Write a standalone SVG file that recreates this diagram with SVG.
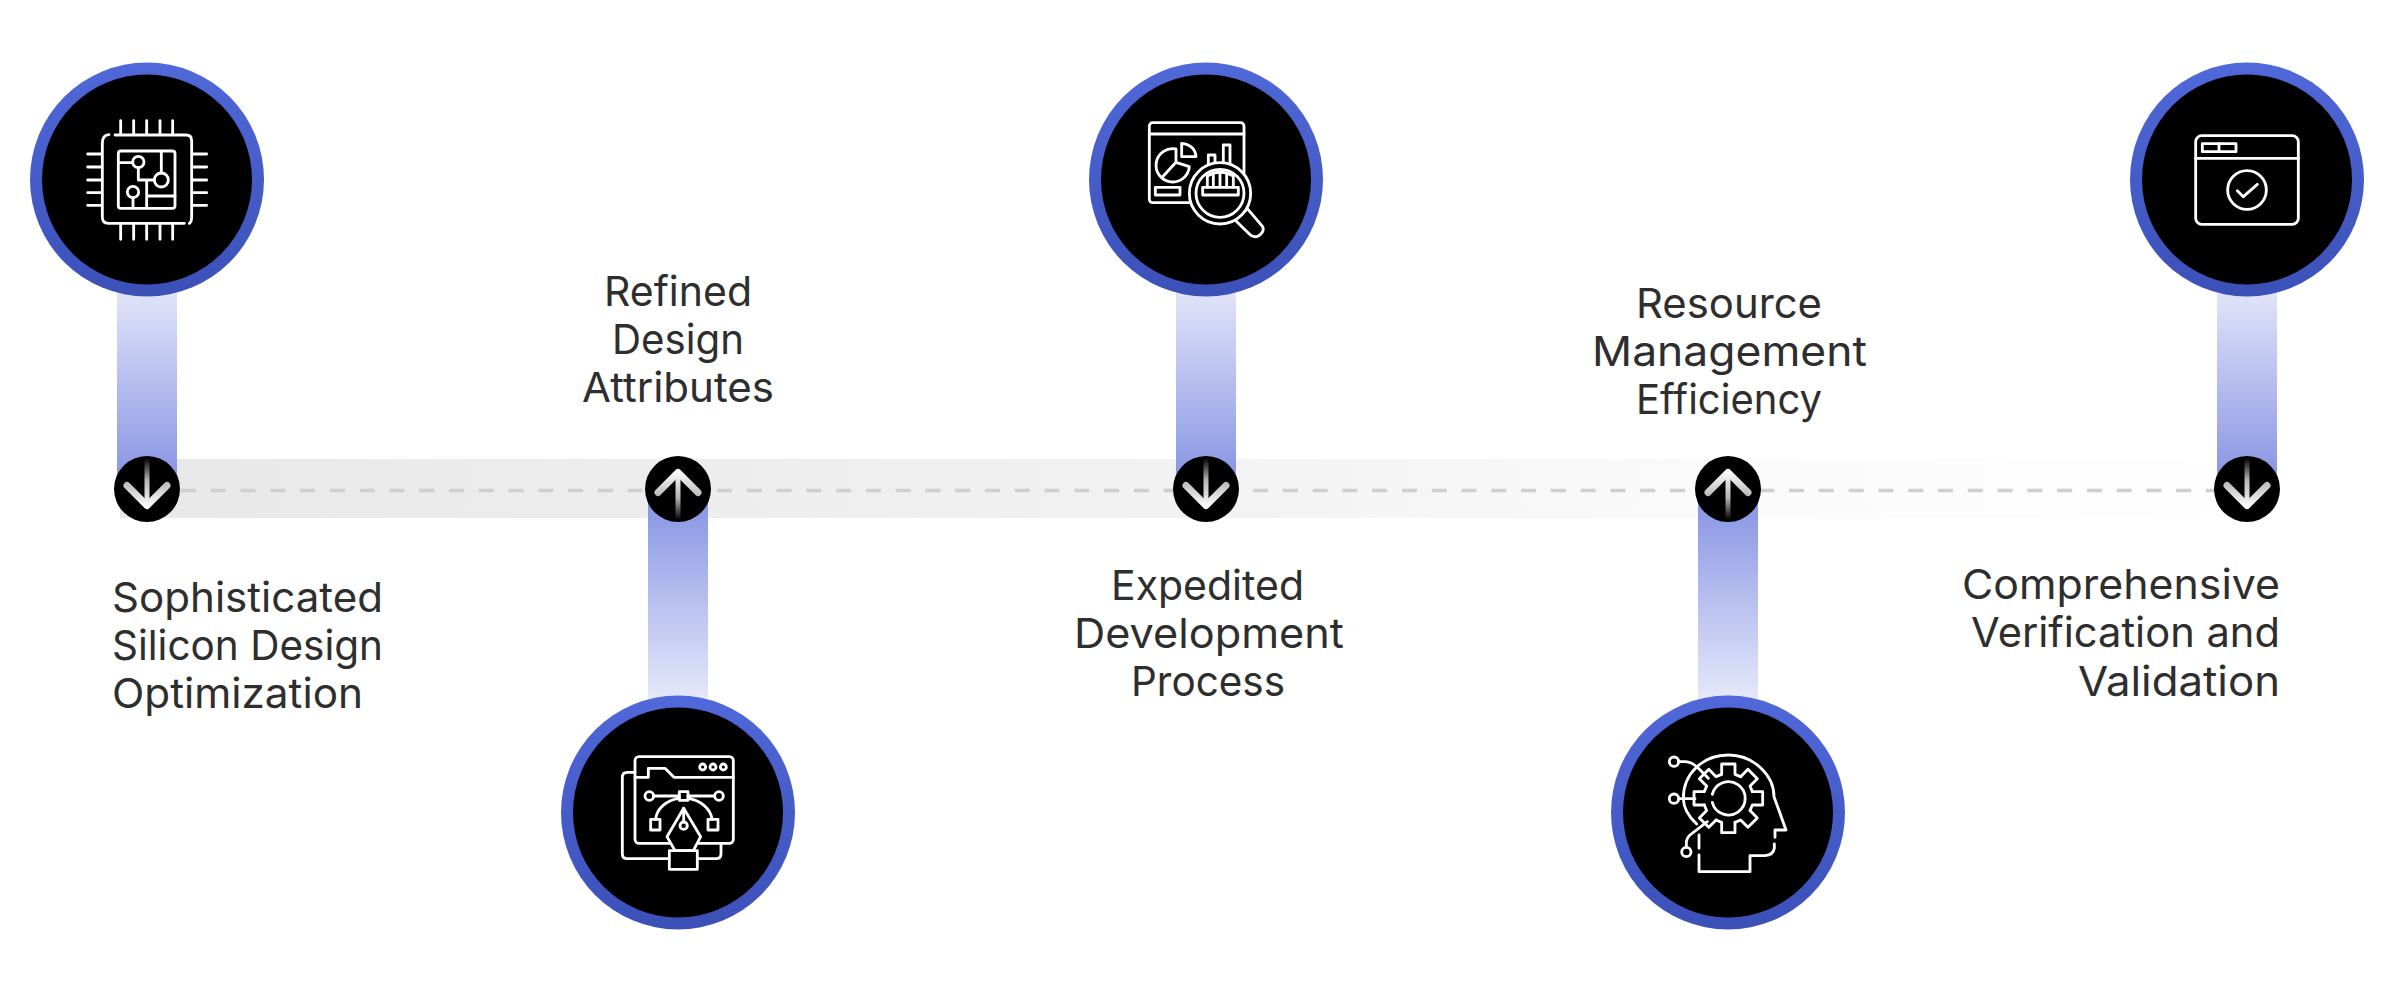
<svg xmlns="http://www.w3.org/2000/svg" xmlns:xlink="http://www.w3.org/1999/xlink" width="2400" height="984" viewBox="0 0 2400 984">
<style>
.lbl{font-family:"Inter","Liberation Sans",sans-serif;font-size:41px;fill:#2e2e2e;font-weight:400}
.ic{fill:none;stroke:#fff;stroke-width:8.5;stroke-linecap:round;stroke-linejoin:round}
.icb{fill:#000;stroke:#fff;stroke-width:8.5;stroke-linecap:round;stroke-linejoin:round}
.disc{fill:#000}
.ring{fill:url(#ringG)}
</style>
<defs>
<linearGradient id="ringG" x1="0" y1="0" x2="0" y2="1"><stop offset="0" stop-color="#5068d9"/><stop offset="1" stop-color="#3b50b7"/></linearGradient>
<linearGradient id="barDown" x1="0" y1="0" x2="0" y2="1"><stop offset="0" stop-color="#e2e5f9"/><stop offset="1" stop-color="#8794e3"/></linearGradient>
<linearGradient id="barUp" x1="0" y1="0" x2="0" y2="1"><stop offset="0" stop-color="#8794e3"/><stop offset="1" stop-color="#e6e9fa"/></linearGradient>
<linearGradient id="trackG" x1="0" y1="0" x2="1" y2="0"><stop offset="0" stop-color="#e8e8e8"/><stop offset=".45" stop-color="#f1f1f1"/><stop offset=".75" stop-color="#fbfbfb"/><stop offset="1" stop-color="#fff"/></linearGradient>
<linearGradient id="arrowG" gradientUnits="userSpaceOnUse" x1="0" y1="-31" x2="0" y2="18"><stop offset="0" stop-color="#000"/><stop offset=".45" stop-color="#b4b4b4"/><stop offset="1" stop-color="#fff"/></linearGradient>
<g id="arrow">
<circle class="disc" r="33"/>
<rect x="-2.5" y="-31" width="5" height="47" fill="url(#arrowG)"/>
<path d="M-20 -3.5 L0 16.5 L20 -3.5" fill="none" stroke="url(#arrowG)" stroke-width="7" stroke-linecap="round" stroke-linejoin="round"/>
</g>
<path id="tooth" class="ic" d="M-20 -72 V-103 H20 V-72 L36.77 -65.05"/>
</defs>

<g id="connectors">
<rect x="120" y="459" width="2180" height="59" fill="url(#trackG)"/>
<line x1="121.4" y1="490.5" x2="2240" y2="490.5" stroke="#cfcfcf" stroke-width="3.5" stroke-dasharray="15 14.78"/>
<rect x="117" y="290" width="60" height="190" fill="url(#barDown)"/>
<rect x="648" y="500" width="60" height="200" fill="url(#barUp)"/>
<rect x="1176" y="290" width="60" height="190" fill="url(#barDown)"/>
<rect x="1698" y="500" width="60" height="200" fill="url(#barUp)"/>
<rect x="2217" y="290" width="60" height="190" fill="url(#barDown)"/>
<use xlink:href="#arrow" href="#arrow" transform="translate(147 489)"/>
<use xlink:href="#arrow" href="#arrow" transform="translate(678 489) rotate(180)"/>
<use xlink:href="#arrow" href="#arrow" transform="translate(1206 489)"/>
<use xlink:href="#arrow" href="#arrow" transform="translate(1728 489) rotate(180)"/>
<use xlink:href="#arrow" href="#arrow" transform="translate(2247 489)"/>
</g>

<g id="node-1">
<circle class="ring" cx="147" cy="179.5" r="117"/><circle class="disc" cx="147" cy="179.5" r="105"/>
<g transform="translate(0 40) scale(.33333)">
<path class="ic" d="M307 310 Q307 285 327 284 M345 285 H558 Q575 285 575 302 V530 Q575 545 568 550 M553 550 H325 Q307 550 307 532 V310"/>
<path class="ic" d="M362 242 V283 M401 242 V283 M440 242 V283 M480 242 V283 M518 242 V283 M362 552 V598 M401 552 V598 M440 552 V598 M480 552 V598 M518 552 V598 M263 342 H305 M263 381 H305 M263 420 H305 M263 458 H305 M263 496 H305 M577 342 H620 M577 381 H620 M577 420 H620 M577 458 H620 M577 496 H620"/>
<rect class="ic" x="355" y="333" width="170" height="172" rx="8"/>
<circle class="ic" cx="415" cy="366" r="17"/><circle class="ic" cx="484" cy="420" r="21"/><circle class="ic" cx="399" cy="456" r="17"/>
<path class="ic" d="M358 368 H398 M415 383 V420 H463 M484 335 V399 M399 473 V503 M440 420 V503 M440 468 H525"/>
</g>
<text class="lbl" x="112" y="612" textLength="271" lengthAdjust="spacingAndGlyphs">Sophisticated</text>
<text class="lbl" x="112" y="660" textLength="271" lengthAdjust="spacingAndGlyphs">Silicon Design</text>
<text class="lbl" x="112" y="708" textLength="251" lengthAdjust="spacingAndGlyphs">Optimization</text>
</g>

<g id="node-2">
<circle class="ring" cx="678" cy="812.5" r="117"/><circle class="disc" cx="678" cy="812.5" r="105"/>
<g transform="translate(540 680) scale(.33333)">
<path class="ic" d="M285 277 H262 Q247 277 247 292 V521 Q247 536 262 536 H388 M478 536 H528 Q543 536 543 521 V490"/>
<rect class="ic" x="285" y="230" width="295" height="260" rx="12"/>
<path class="ic" d="M285 292 H325 V265 H375 L402 292 H580"/>
<circle class="ic" cx="488" cy="261" r="9"/><circle class="ic" cx="519" cy="261" r="9"/><circle class="ic" cx="550" cy="261" r="9"/>
<circle class="ic" cx="328" cy="348" r="13"/><circle class="ic" cx="537" cy="348" r="13"/>
<rect class="ic" x="418" y="335" width="26" height="26"/>
<path class="ic" d="M341 348 H418 M444 348 H524 M347 418 C350 385 380 360 418 355 M444 355 C480 360 512 385 516 418"/>
<rect class="ic" x="332" y="418" width="28" height="32"/><rect class="ic" x="504" y="418" width="30" height="32"/>
<path class="icb" d="M431 385 L381 470 L405 512 H460 L482 470 Z"/>
<circle class="ic" cx="431" cy="437" r="11"/>
<path class="ic" d="M431 385 V426"/>
<rect class="icb" x="388" y="512" width="84" height="56"/>
</g>
<text class="lbl" x="604" y="306" textLength="148" lengthAdjust="spacingAndGlyphs">Refined</text>
<text class="lbl" x="612" y="354" textLength="132" lengthAdjust="spacingAndGlyphs">Design</text>
<text class="lbl" x="582" y="402" textLength="192" lengthAdjust="spacingAndGlyphs">Attributes</text>
</g>

<g id="node-3">
<circle class="ring" cx="1206" cy="179.5" r="117"/><circle class="disc" cx="1206" cy="179.5" r="105"/>
<g transform="translate(1070 50) scale(.33333)">
<rect class="ic" x="238" y="218" width="284" height="240" rx="10"/>
<path class="ic" d="M238 252 H522"/>
<path class="ic" d="M335 280 Q375 285 378 320 H335 Z M318 297 A50 50 0 1 0 358 350 L318 337 Z M318 337 L278 380"/>
<rect class="ic" x="256" y="412" width="74" height="23"/>
<path class="ic" d="M415 345 V315 H435 V345 M460 345 V285 H480 V345"/>
<path class="icb" d="M495 510 L518 490 L532 476 L578 530 Q585 545 565 558 Q550 565 538 552 Z"/>
<circle class="icb" cx="450" cy="430" r="92"/>
<circle class="ic" cx="450" cy="430" r="72"/>
<rect class="ic" x="398" y="412" width="107" height="23"/>
<path class="ic" d="M412 412 V378 Q450 355 490 378 V412 M430 368 V412 M450 365 V412 M470 368 V412"/>
</g>
<text class="lbl" x="1111" y="600" textLength="193" lengthAdjust="spacingAndGlyphs">Expedited</text>
<text class="lbl" x="1074" y="648" textLength="270" lengthAdjust="spacingAndGlyphs">Development</text>
<text class="lbl" x="1131" y="696" textLength="154" lengthAdjust="spacingAndGlyphs">Process</text>
</g>

<g id="node-4">
<circle class="ring" cx="1728" cy="812.5" r="117"/><circle class="disc" cx="1728" cy="812.5" r="105"/>
<g transform="translate(1600 680) scale(.33333)">
<path class="ic" d="M290 432 Q250 395 250 355 C250 280 310 225 385 225 C460 225 522 285 522 350 L558 450 H525 V472 M523 492 V505 Q520 525 495 527 H450 V575 H297 V525 M297 505 V465"/>
<circle cx="385" cy="355" r="100" fill="#000"/>
<g transform="translate(385 355)">
<use xlink:href="#tooth" href="#tooth"/><use xlink:href="#tooth" href="#tooth" transform="rotate(45)"/><use xlink:href="#tooth" href="#tooth" transform="rotate(90)"/><use xlink:href="#tooth" href="#tooth" transform="rotate(135)"/><use xlink:href="#tooth" href="#tooth" transform="rotate(180)"/><use xlink:href="#tooth" href="#tooth" transform="rotate(225)"/><use xlink:href="#tooth" href="#tooth" transform="rotate(270)"/><use xlink:href="#tooth" href="#tooth" transform="rotate(315)"/>
</g>
<path class="ic" d="M337 343 A50 50 0 1 1 337 367"/>
<circle class="ic" cx="222" cy="245" r="14"/><circle class="ic" cx="222" cy="356" r="14"/><circle class="ic" cx="259" cy="516" r="14"/>
<path class="ic" d="M236 245 H255 Q275 245 295 265 L325 295 M236 356 H285 M259 502 V490 Q259 475 270 465 L322 425"/>
</g>
<text class="lbl" x="1636" y="318" textLength="186" lengthAdjust="spacingAndGlyphs">Resource</text>
<text class="lbl" x="1592" y="366" textLength="275" lengthAdjust="spacingAndGlyphs">Management</text>
<text class="lbl" x="1636" y="414" textLength="186" lengthAdjust="spacingAndGlyphs">Efficiency</text>
</g>

<g id="node-5">
<circle class="ring" cx="2247" cy="179.5" r="117"/><circle class="disc" cx="2247" cy="179.5" r="105"/>
<g transform="translate(2120 50) scale(.33333)">
<rect class="ic" x="227" y="257" width="308" height="266" rx="18"/>
<path class="ic" d="M227 325 H535"/>
<rect class="ic" x="247" y="281" width="101" height="24"/>
<path class="ic" d="M297 281 V305"/>
<circle class="ic" cx="381" cy="420" r="58"/>
<path class="ic" d="M352 422 L370 440 L412 403"/>
</g>
<text class="lbl" x="1962" y="599" textLength="318" lengthAdjust="spacingAndGlyphs">Comprehensive</text>
<text class="lbl" x="1971" y="647" textLength="309" lengthAdjust="spacingAndGlyphs">Verification and</text>
<text class="lbl" x="2078" y="696" textLength="202" lengthAdjust="spacingAndGlyphs">Validation</text>
</g>
</svg>
